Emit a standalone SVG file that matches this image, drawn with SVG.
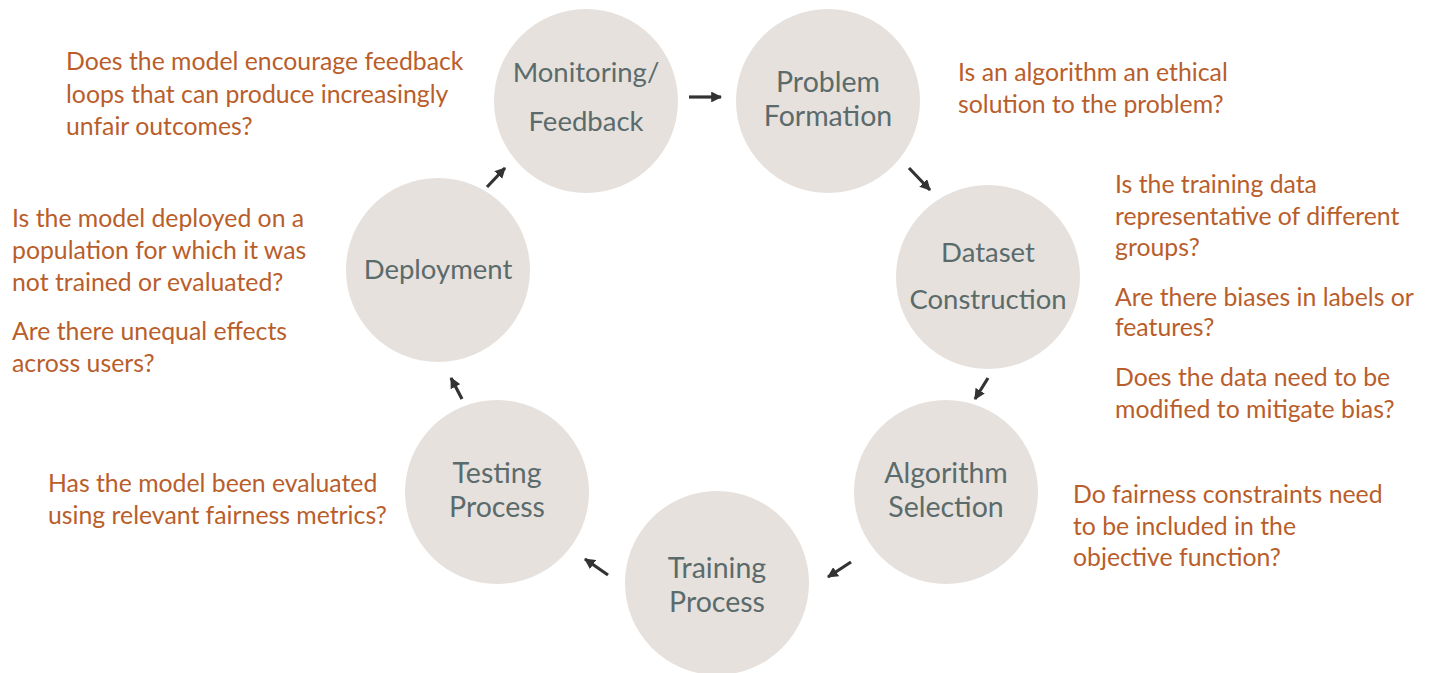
<svg xmlns="http://www.w3.org/2000/svg" width="1432" height="673" viewBox="0 0 1432 673">
<defs>
<style>
.node circle{fill:#e6e1dd;}
.node text{fill:#5b6b6b;font-family:Lato,"Open Sans",sans-serif;font-size:27.5px;text-anchor:middle;}
.node text.b{font-size:28.5px;}
.q{fill:#b95e2b;font-family:Lato,"Open Sans",sans-serif;font-size:24.8px;}
.conn line{stroke:#333;stroke-width:3.2;marker-end:url(#ah);}
</style>
<marker id="ah" viewBox="0 0 10 10" refX="9" refY="5" markerWidth="3.4" markerHeight="3.4" orient="auto" markerUnits="strokeWidth">
<path d="M0,0 L10,5 L0,10 z" fill="#333"/>
</marker>
</defs>
<rect width="1432" height="673" fill="#fff"/>
<g id="n-monitoring" class="node"><circle cx="586" cy="101" r="92"/><text x="586" y="82">Monitoring/</text><text x="586" y="131">Feedback</text></g>
<g id="n-problem" class="node"><circle cx="828" cy="101" r="92"/><text class="b" x="828" y="92">Problem</text><text class="b" x="828" y="126">Formation</text></g>
<g id="n-dataset" class="node"><circle cx="988" cy="277" r="92"/><text x="988" y="262">Dataset</text><text x="988" y="309">Construction</text></g>
<g id="n-algorithm" class="node"><circle cx="946" cy="492" r="92"/><text class="b" x="946" y="483">Algorithm</text><text class="b" x="946" y="517">Selection</text></g>
<g id="n-training" class="node"><circle cx="717" cy="583" r="92"/><text class="b" x="717" y="578">Training</text><text class="b" x="717" y="612">Process</text></g>
<g id="n-testing" class="node"><circle cx="497" cy="492" r="92"/><text class="b" x="497" y="483">Testing</text><text class="b" x="497" y="517">Process</text></g>
<g id="n-deployment" class="node"><circle cx="438" cy="270" r="92"/><text x="438" y="279">Deployment</text></g>
<g id="connectors" class="conn">
<line x1="689" y1="97" x2="721" y2="97"/>
<line x1="909" y1="168" x2="930" y2="190"/>
<line x1="988" y1="378" x2="975" y2="399"/>
<line x1="851" y1="562" x2="828" y2="577"/>
<line x1="608" y1="575" x2="585" y2="559"/>
<line x1="462" y1="399" x2="451" y2="378"/>
<line x1="487" y1="187" x2="505" y2="168"/>
</g>
<g id="questions">
<text class="q" x="66" y="70">Does the model encourage feedback</text>
<text class="q" x="66" y="103">loops that can produce increasingly</text>
<text class="q" x="66" y="135">unfair outcomes?</text>
<text class="q" x="958" y="81">Is an algorithm an ethical</text>
<text class="q" x="958" y="113">solution to the problem?</text>
<text class="q" x="1115" y="193">Is the training data</text>
<text class="q" x="1115" y="225">representative of different</text>
<text class="q" x="1115" y="256">groups?</text>
<text class="q" x="1115" y="306">Are there biases in labels or</text>
<text class="q" x="1115" y="336">features?</text>
<text class="q" x="1115" y="386">Does the data need to be</text>
<text class="q" x="1115" y="418">modified to mitigate bias?</text>
<text class="q" x="1073" y="503">Do fairness constraints need</text>
<text class="q" x="1073" y="535">to be included in the</text>
<text class="q" x="1073" y="566">objective function?</text>
<text class="q" x="48" y="492">Has the model been evaluated</text>
<text class="q" x="48" y="524">using relevant fairness metrics?</text>
<text class="q" x="12" y="227">Is the model deployed on a</text>
<text class="q" x="12" y="259">population for which it was</text>
<text class="q" x="12" y="291">not trained or evaluated?</text>
<text class="q" x="12" y="340">Are there unequal effects</text>
<text class="q" x="12" y="372">across users?</text>
</g>
</svg>
